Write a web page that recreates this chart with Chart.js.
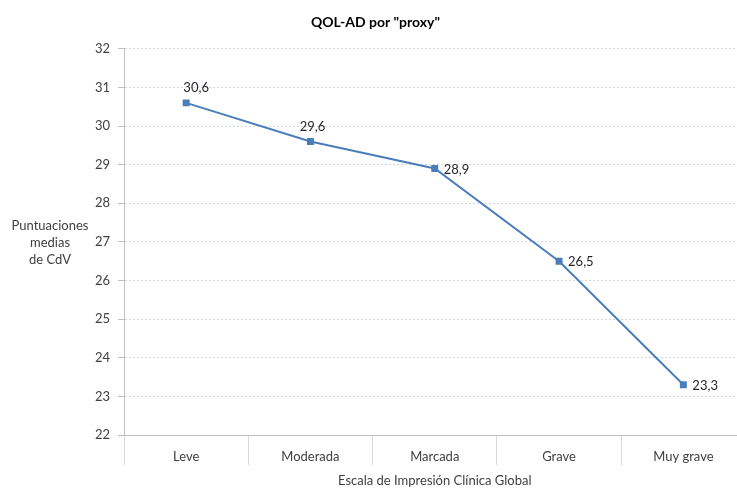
<!DOCTYPE html>
<html>
<head>
<meta charset="utf-8">
<script src="https://cdn.jsdelivr.net/npm/chart.js@4"></script>
<style>
  html, body { margin: 0; padding: 0; background: #fff; overflow: hidden; }
  #wrap { width: 751px; height: 489px; }
</style>
</head>
<body>
<div id="wrap"><canvas id="myChart"></canvas></div>
<script>
const categories = ['Leve', 'Moderada', 'Marcada', 'Grave', 'Muy grave'];
const scores = [30.6, 29.6, 28.9, 26.5, 23.3];
const scoreLabels = ['30,6', '29,6', '28,9', '26,5', '23,3'];
// where each value label sits relative to its point
const labelSide = ['above', 'above', 'right', 'right', 'right'];
const yTitleLines = ['Puntuaciones', 'medias', 'de CdV'];

const FONT = 'Lato, "Open Sans", sans-serif';
const TEXT = '#404040';

// value labels next to the points
const pointLabels = {
  id: 'pointLabels',
  afterDatasetsDraw(chart) {
    const ctx = chart.ctx;
    const meta = chart.getDatasetMeta(0);
    ctx.save();
    ctx.font = '13px ' + FONT;
    ctx.fillStyle = '#262626';
    ctx.textBaseline = 'middle';
    meta.data.forEach((pt, i) => {
      if (labelSide[i] === 'above') {
        ctx.textAlign = 'center';
        ctx.fillText(scoreLabels[i], pt.x + (i === 0 ? 10 : 2), pt.y - 15);
      } else {
        ctx.textAlign = 'left';
        ctx.fillText(scoreLabels[i], pt.x + 9, pt.y + 1);
      }
    });
    ctx.restore();
  }
};

// horizontal y axis title on the left
const yTitle = {
  id: 'yTitle',
  afterDraw(chart) {
    const ctx = chart.ctx;
    ctx.save();
    ctx.font = '13px ' + FONT;
    ctx.fillStyle = TEXT;
    ctx.textAlign = 'center';
    ctx.textBaseline = 'middle';
    yTitleLines.forEach((t, i) => ctx.fillText(t, 50, 226 + i * 17));
    ctx.restore();
  }
};

const myChart = document.getElementById('myChart');

new Chart(myChart, {
  type: 'line',
  data: {
    labels: categories,
    datasets: [{
      data: scores,
      borderColor: '#4a7ebb',
      backgroundColor: '#4a7ebb',
      borderWidth: 2,
      pointStyle: 'rect',
      pointRadius: 3.5,
      pointHoverRadius: 3.5,
      tension: 0
    }]
  },
  options: {
    responsive: true,
    maintainAspectRatio: false,
    animation: false,
    layout: { padding: { top: 14, right: 0, bottom: 0, left: 0 } },
    plugins: {
      legend: { display: false },
      tooltip: { enabled: false },
      title: {
        display: true,
        text: 'QOL-AD por "proxy"',
        color: '#000',
        font: { family: FONT, size: 14, weight: 'bold' },
        padding: { top: 0, bottom: 18 }
      }
    },
    scales: {
      x: {
        offset: true,
        grid: {
          offset: true,
          drawOnChartArea: false,
          tickLength: 30,
          color: '#d9d9d9'
        },
        border: { color: '#bfbfbf' },
        ticks: {
          color: TEXT,
          font: { family: FONT, size: 13 },
          padding: -16
        },
        title: {
          display: true,
          text: 'Escala de Impresión Clínica Global',
          color: TEXT,
          font: { family: FONT, size: 13 },
          padding: { top: 4, bottom: 0 }
        },
        afterFit(scale) { scale.height = 54; }
      },
      y: {
        min: 22,
        max: 32,
        ticks: {
          stepSize: 1,
          color: TEXT,
          font: { family: FONT, size: 13 },
          padding: 8
        },
        grid: {
          color: '#cfd9ea',
          tickLength: 6,
          tickColor: '#bfbfbf'
        },
        border: { color: '#bfbfbf', dash: [2, 2] },
        afterFit(scale) { scale.width = 124; }
      }
    }
  },
  plugins: [pointLabels, yTitle]
});
</script>
</body>
</html>
